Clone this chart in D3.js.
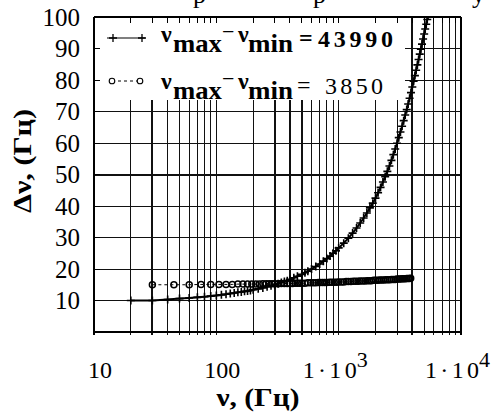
<!DOCTYPE html>
<html>
<head>
<meta charset="utf-8">
<script src="https://cdn.jsdelivr.net/npm/d3@7"></script>
<style>
  body { margin: 0; background: #fff; }
  svg { display: block; }
</style>
</head>
<body>
<div id="chart"></div>
<script>
// series 1: nu_max - nu_min = 43990 ("+" markers)
var nu1 = [20, 30, 40, 50, 60, 70, 80, 90, 100, 110, 120, 130, 140, 150, 160, 170, 180, 190, 200,
  220, 240, 260, 280, 300, 320, 340, 360, 380, 400, 430, 460, 500, 530, 560, 600, 650, 700, 750,
  800, 850, 900, 950, 1000, 1100, 1200, 1300, 1400, 1500, 1600, 1700, 1800, 1900, 2000, 2100,
  2200, 2300, 2400, 2500, 2600, 2700, 2800, 2900, 3000, 3100, 3200, 3300, 3400, 3500, 3600,
  3700, 3800, 3900, 4000, 4100, 4200, 4300, 4400, 4500, 4600, 4700, 4800, 4900, 5000, 5100,
  5200, 5300, 5400, 5500];
var dnu1 = [10.0, 10.0, 10.3, 10.6, 10.8, 11.0, 11.2, 11.4, 11.6, 11.8, 12.0, 12.2, 12.4, 12.6,
  12.7, 12.9, 13.0, 13.2, 13.4, 13.7, 14.0, 14.4, 14.7, 15.0, 15.3, 15.7, 16.0, 16.3, 16.7, 17.2,
  17.7, 18.3, 18.8, 19.3, 20.0, 20.8, 21.6, 22.5, 23.3, 24.1, 25.0, 25.8, 26.7, 28.2, 29.8, 31.4,
  33.0, 34.6, 36.2, 37.8, 39.4, 40.9, 42.5, 44.2, 45.9, 47.6, 49.3, 51.0, 52.7, 54.5, 56.3, 58.1,
  59.9, 61.7, 63.5, 65.3, 67.1, 68.9, 70.6, 72.4, 74.2, 76.0, 77.8, 79.6, 81.4, 83.1, 84.8, 86.5,
  88.2, 89.8, 91.4, 93.0, 94.6, 96.2, 97.7, 99.2, 100.7, 102.2];

// series 2: nu_max - nu_min = 3850 (circle markers)
var nu2 = [30, 45, 60, 75, 90, 105, 120, 135, 150, 165, 180, 195, 210, 225, 240, 255, 270, 285,
  300, 320, 340, 360, 380, 400, 420, 440, 460, 480, 500, 530, 560, 590, 620, 650, 680, 710, 740,
  770, 800, 840, 880, 920, 960, 1000, 1050, 1100, 1150, 1200, 1260, 1320, 1380, 1440, 1500, 1570,
  1640, 1710, 1780, 1850, 1930, 2010, 2090, 2170, 2250, 2340, 2430, 2520, 2610, 2700, 2800, 2900,
  3000, 3100, 3200, 3300, 3400, 3500, 3600, 3700, 3800, 3880];
var dnu2 = [15.0, 15.0, 15.0, 15.1, 15.1, 15.1, 15.1, 15.1, 15.2, 15.2, 15.2, 15.2, 15.2, 15.2,
  15.3, 15.3, 15.3, 15.3, 15.3, 15.3, 15.4, 15.4, 15.4, 15.4, 15.4, 15.5, 15.5, 15.5, 15.5, 15.5,
  15.6, 15.6, 15.6, 15.6, 15.7, 15.7, 15.7, 15.7, 15.7, 15.8, 15.8, 15.8, 15.8, 15.9, 15.9, 15.9,
  16.0, 16.0, 16.0, 16.1, 16.1, 16.1, 16.2, 16.2, 16.2, 16.3, 16.3, 16.3, 16.4, 16.4, 16.4, 16.5,
  16.5, 16.5, 16.6, 16.6, 16.6, 16.7, 16.7, 16.7, 16.8, 16.8, 16.8, 16.9, 16.9, 16.9, 17.0, 17.0,
  17.0, 17.1];

var yTicks = [10, 20, 30, 40, 50, 60, 70, 80, 90, 100];
var xLabelVals = [10, 100, 1000, 10000];
var xLabelBase = ["10", "100", "1·10", "1·10"];
var xLabelExp = ["", "", "3", "4"];
var legendRange = ["43990", "3850"];

var margin = { top: 17, right: 31, bottom: 80, left: 94 },
    width = 492 - margin.left - margin.right,
    height = 412 - margin.top - margin.bottom,
    boldGrid = [30, 300, 400, 500, 4000];

var x = d3.scaleLog().domain([10, 10000]).range([0, width]);
var y = d3.scaleLinear().domain([0, 100]).range([height, 0]);

var root = d3.select("#chart").append("svg")
    .attr("width", 492)
    .attr("height", 412);

// cropped title, only descenders visible at the top edge
root.selectAll(".title-frag")
    .data([["р", 193], ["р", 313], ["у", 472]])
    .enter().append("text")
      .attr("x", function(d) { return d[1]; })
      .attr("y", 3)
      .style("font-size", "26px")
      .text(function(d) { return d[0]; });

var svg = root.append("g")
    .attr("transform", "translate(" + margin.left + "," + margin.top + ")");

svg.append("clipPath").attr("id", "plotclip")
  .append("rect")
    .attr("width", width)
    .attr("height", height);

// grid
var grid = svg.append("g").attr("stroke", "#111").attr("shape-rendering", "crispEdges");

grid.selectAll(".vgrid")
    .data(x.ticks())
    .enter().append("line")
      .attr("x1", function(d) { return x(d); })
      .attr("x2", function(d) { return x(d); })
      .attr("y1", 0)
      .attr("y2", height + 3)
      .attr("stroke-width", function(d) { return boldGrid.indexOf(d) >= 0 ? 2 : 1; });

grid.selectAll(".hgrid")
    .data(yTicks)
    .enter().append("line")
      .attr("x1", 0)
      .attr("x2", width)
      .attr("y1", function(d) { return y(d); })
      .attr("y2", function(d) { return y(d); })
      .attr("stroke-width", function(d) { return d === 50 ? 2 : 1; });

// legend background hides the grid
svg.append("rect")
    .attr("x", 1)
    .attr("y", 1)
    .attr("width", 310)
    .attr("height", 82)
    .attr("fill", "#fff");

// frame and inward ticks
var frame = svg.append("g").attr("stroke", "#000").attr("shape-rendering", "crispEdges");
frame.append("line").attr("x1", 0).attr("x2", width).attr("y1", 0).attr("y2", 0).attr("stroke-width", 2.5);
frame.append("line").attr("x1", 0).attr("x2", width).attr("y1", height).attr("y2", height).attr("stroke-width", 1.5);
frame.append("line").attr("x1", 0).attr("x2", 0).attr("y1", 0).attr("y2", height + 3).attr("stroke-width", 1.5);
frame.append("line").attr("x1", width).attr("x2", width).attr("y1", 0).attr("y2", height + 3).attr("stroke-width", 1.5);

frame.selectAll(".xtick")
    .data(x.ticks())
    .enter().append("line")
      .attr("x1", function(d) { return x(d); })
      .attr("x2", function(d) { return x(d); })
      .attr("y1", 0)
      .attr("y2", 6);

frame.selectAll(".ytick")
    .data(yTicks)
    .enter().append("line")
      .attr("x1", 0)
      .attr("x2", 6)
      .attr("y1", function(d) { return y(d); })
      .attr("y2", function(d) { return y(d); });

// data
var s1 = nu1.map(function(v, i) { return { nu: v, dnu: dnu1[i] }; });
var s2 = nu2.map(function(v, i) { return { nu: v, dnu: dnu2[i] }; });

var line = d3.line()
    .x(function(d) { return x(d.nu); })
    .y(function(d) { return y(d.dnu); });

var plot = svg.append("g").attr("clip-path", "url(#plotclip)");

plot.append("path")
    .datum(s2)
    .attr("d", line)
    .attr("fill", "none")
    .attr("stroke", "#000")
    .attr("stroke-width", 1)
    .attr("stroke-dasharray", "3,3");

plot.selectAll(".circ")
    .data(s2)
    .enter().append("circle")
      .attr("cx", function(d) { return x(d.nu); })
      .attr("cy", function(d) { return y(d.dnu); })
      .attr("r", 3)
      .attr("fill", "none")
      .attr("stroke", "#000")
      .attr("stroke-width", 1.5);

plot.append("path")
    .datum(s1)
    .attr("d", line)
    .attr("fill", "none")
    .attr("stroke", "#000")
    .attr("stroke-width", 2);

plot.selectAll(".plus")
    .data(s1)
    .enter().append("path")
      .attr("transform", function(d) { return "translate(" + x(d.nu) + "," + y(d.dnu) + ")"; })
      .attr("d", "M-4,0H4M0,-4V4")
      .attr("stroke", "#000")
      .attr("stroke-width", 1.6);

// legend (absolute coords)
var leg = root.append("g");
leg.append("line").attr("x1", 107).attr("x2", 145).attr("y1", 38).attr("y2", 38)
    .attr("stroke", "#000").attr("stroke-width", 1.2);
leg.selectAll(".lplus")
    .data([113, 142])
    .enter().append("path")
      .attr("transform", function(d) { return "translate(" + d + ",38)"; })
      .attr("d", "M-4,0H4M0,-4V4")
      .attr("stroke", "#000")
      .attr("stroke-width", 1.3);
leg.append("line").attr("x1", 112).attr("x2", 140).attr("y1", 81).attr("y2", 81)
    .attr("stroke", "#000").attr("stroke-width", 1).attr("stroke-dasharray", "3,3");
leg.selectAll(".lcirc")
    .data([112, 140])
    .enter().append("circle")
      .attr("cx", function(d) { return d; })
      .attr("cy", 81)
      .attr("r", 2.8)
      .attr("fill", "#fff")
      .attr("stroke", "#000")
      .attr("stroke-width", 1.1);

legendRange.forEach(function(val, i) {
  var dy = i * 46.5;
  var g = leg.append("g").style("font-weight", "bold");
  g.append("text").attr("x", 161).attr("y", 42 + dy).style("font-size", "24px").text("ν");
  g.append("text").attr("x", 173).attr("y", 52 + dy).style("font-size", "26px")
      .attr("textLength", 49).attr("lengthAdjust", "spacingAndGlyphs").text("max");
  g.append("text").attr("x", 222).attr("y", 39 + dy).style("font-size", "22px").style("font-weight", "normal").text("−");
  g.append("text").attr("x", 238).attr("y", 42 + dy).style("font-size", "24px").text("ν");
  g.append("text").attr("x", 248).attr("y", 52 + dy).style("font-size", "26px")
      .attr("textLength", 45).attr("lengthAdjust", "spacingAndGlyphs").text("min");
  g.append("text").attr("x", i === 0 ? 299 : 297).attr("y", 46 + dy).style("font-size", "24px")
      .style("font-weight", i === 0 ? "bold" : "normal").text("=");
  g.append("text").attr("x", i === 0 ? 318 : 325).attr("y", 47 + dy).style("font-size", "24px")
      .style("font-weight", i === 0 ? "bold" : "normal")
      .attr("textLength", i === 0 ? 75 : 58).attr("lengthAdjust", "spacing").text(val);
});

// y tick labels
svg.selectAll(".ylab")
    .data(yTicks)
    .enter().append("text")
      .attr("x", -14)
      .attr("y", function(d) { return y(d); })
      .attr("dy", "0.35em")
      .style("text-anchor", "end")
      .style("font-size", "25px")
      .text(function(d) { return d; });

// x tick labels
var xl = svg.selectAll(".xlab")
    .data(xLabelVals)
    .enter().append("text")
      .attr("y", 361)
      .style("font-size", "24px");
xl.attr("x", function(d, i) { return xLabelExp[i] ? x(d) - 36 : x(d) + 6; })
  .style("text-anchor", function(d, i) { return xLabelExp[i] ? "start" : "middle"; })
  .text(function(d, i) { return xLabelBase[i]; })
  .filter(function(d, i) { return xLabelExp[i]; })
    .attr("textLength", 54)
    .attr("lengthAdjust", "spacing");
svg.selectAll(".xexp")
    .data(xLabelVals.filter(function(d, i) { return xLabelExp[i]; }))
    .enter().append("text")
      .attr("x", function(d) { return x(d) + 18; })
      .attr("y", 350)
      .style("font-size", "22px")
      .text(function(d) { return xLabelExp[xLabelVals.indexOf(d)]; });

// axis titles
root.append("text")
    .attr("transform", "translate(31,161) rotate(-90)")
    .style("text-anchor", "middle")
    .style("font-size", "25px")
    .style("font-weight", "bold")
    .attr("textLength", 104)
    .attr("lengthAdjust", "spacingAndGlyphs")
    .text("Δν, (Гц)");

root.append("text")
    .attr("x", 258)
    .attr("y", 406)
    .style("text-anchor", "middle")
    .style("font-size", "26px")
    .style("font-weight", "bold")
    .attr("textLength", 83)
    .attr("lengthAdjust", "spacingAndGlyphs")
    .text("ν, (Гц)");

// same serif face everywhere
root.selectAll("text")
    .style("font-family", "'Liberation Serif', serif")
    .style("fill", "#000");
</script>
</body>
</html>
